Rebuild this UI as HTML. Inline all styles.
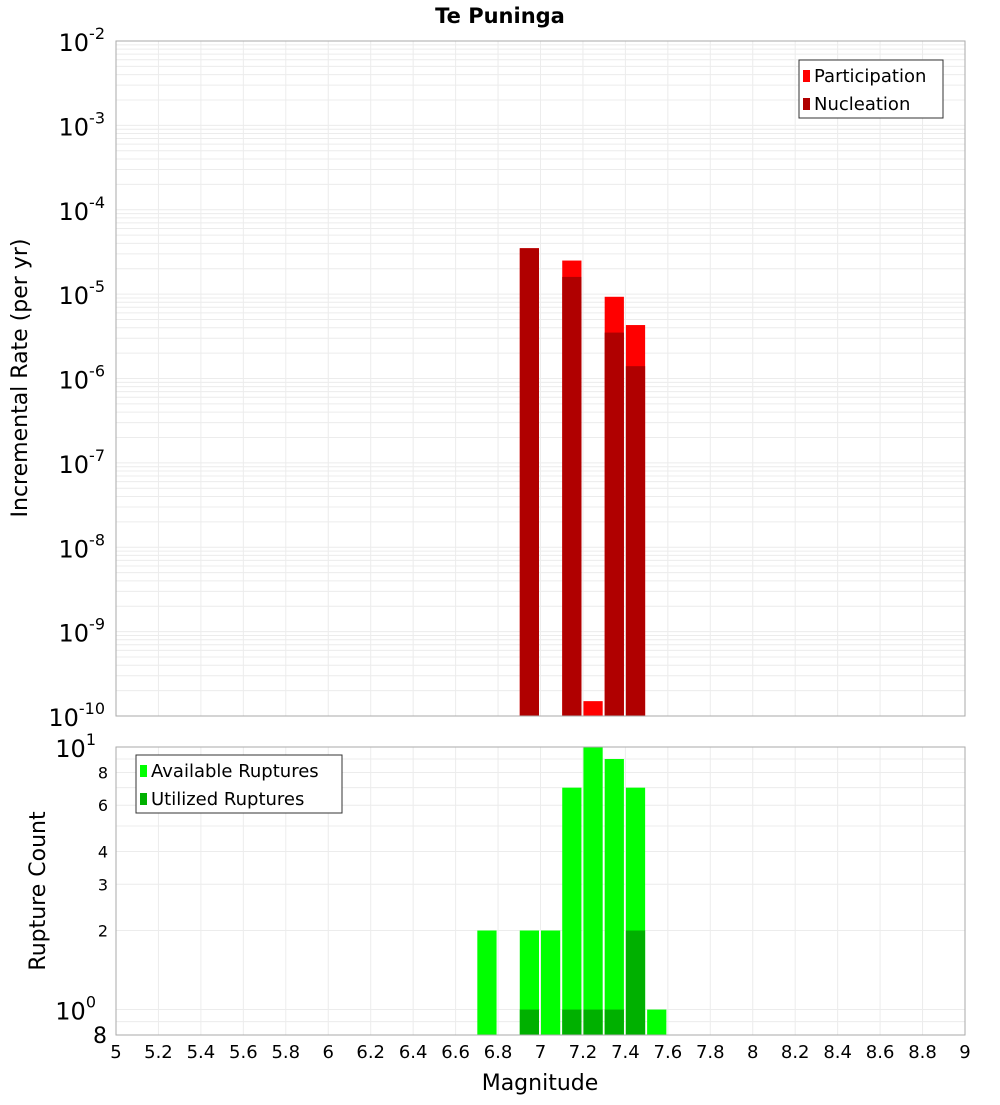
<!DOCTYPE html>
<html><head><meta charset="utf-8"><style>
body{margin:0;background:#fff;font-family:"Liberation Sans","DejaVu Sans",sans-serif;}
svg text{font-family:"DejaVu Sans","Liberation Sans",sans-serif;}
</style></head><body>
<svg id="chart" width="1000" height="1100" xmlns="http://www.w3.org/2000/svg">
<text x="500" y="23" text-anchor="middle" font-size="21" font-weight="bold">Te Puninga</text>
<g id="topPlot"></g><g id="botPlot"></g>
<text transform="translate(27,378) rotate(-90)" text-anchor="middle" font-size="22">Incremental Rate (per yr)</text>
<text transform="translate(45,891) rotate(-90)" text-anchor="middle" font-size="22">Rupture Count</text>
<text x="540" y="1090" text-anchor="middle" font-size="22">Magnitude</text>
</svg>
<script>
const mags = [6.75, 6.95, 7.05, 7.15, 7.25, 7.35, 7.45, 7.55];
const participation = [0, 3.5e-5, 0, 2.5e-5, 1.5e-10, 9.3e-6, 4.3e-6, 0];
const nucleation = [0, 3.5e-5, 0, 1.6e-5, 0, 3.5e-6, 1.4e-6, 0];
const available = [2, 2, 2, 7, 10, 9, 7, 1];
const utilized = [0, 1, 0, 1, 1, 1, 2, 0];
const xTicks = [5,5.2,5.4,5.6,5.8,6,6.2,6.4,6.6,6.8,7,7.2,7.4,7.6,7.8,8,8.2,8.4,8.6,8.8,9];
const topTicks = [-2,-3,-4,-5,-6,-7,-8,-9,-10];
const botTicks = [2,3,4,6,8];

const NS="http://www.w3.org/2000/svg";
const X0=116,X1=965;
const xs = m => X0+(m-5)/4*(X1-X0);
const TY0=41,TY1=716;
const yTop = v => TY0+(-2-Math.log10(v))/8*(TY1-TY0);
const BY0=747,BY1=1035;
const yBot = v => BY0+(1-Math.log10(v))/(1-Math.log10(0.8))*(BY1-BY0);
function el(p,tag,attrs,txt){const e=document.createElementNS(NS,tag);for(const k in attrs)e.setAttribute(k,attrs[k]);if(txt!==undefined)e.textContent=txt;p.appendChild(e);return e;}
const gTop=document.getElementById('topPlot'), gBot=document.getElementById('botPlot');

function grid(g,ya,yb){
  for(let m=5;m<=9.001;m+=0.2){const l=el(g,'line',{x1:xs(m),x2:xs(m),y1:ya,y2:yb,stroke:'#ececec'});
  
  }
}
grid(gTop,TY0,TY1);
for(let d=-10;d<-2;d++){for(let k=1;k<10;k++){const v=k*Math.pow(10,d);const l=el(gTop,'line',{x1:X0,x2:X1,y1:yTop(v),y2:yTop(v),stroke:'#ececec'});

}}
grid(gBot,BY0,BY1);
[0.8,0.9,1,2,3,4,5,6,7,8,9,10].forEach(v=>{const l=el(gBot,'line',{x1:X0,x2:X1,y1:yBot(v),y2:yBot(v),stroke:'#ececec'});

});

function bar(g,m,v,yf,base,color,name){if(!(v>0))return;const xa=xs(m-0.05)+0.5,xb=xs(m+0.05)-1.5;const y=yf(v);
const r=el(g,'rect',{x:xa,y:y,width:xb-xa,height:base-y,fill:color});

}
mags.forEach((m,i)=>{bar(gTop,m,participation[i],yTop,TY1,'#ff0000','participation-bar');bar(gTop,m,nucleation[i],yTop,TY1,'#b00000','nucleation-bar');
bar(gBot,m,available[i],yBot,BY1,'#00ff00','available-bar');bar(gBot,m,utilized[i],yBot,BY1,'#00b000','utilized-bar');});

el(gTop,'rect',{x:X0,y:TY0,width:X1-X0,height:TY1-TY0,fill:'none',stroke:'#aaa'});
el(gBot,'rect',{x:X0,y:BY0,width:X1-X0,height:BY1-BY0,fill:'none',stroke:'#aaa'});

topTicks.forEach(d=>{const t=el(gTop,'text',{x:105,y:yTop(Math.pow(10,d))+10,'text-anchor':'end','font-size':24});


t.textContent='10';el(t,'tspan',{dy:-12,'font-size':16},String(d));});
[[10,'10','1'],[1,'10','0']].forEach(([v,b,e])=>{const t=el(gBot,'text',{x:105-(e.length*9),y:yBot(v)+10,'text-anchor':'end','font-size':24});


t.textContent=b;el(t,'tspan',{dy:-12,'font-size':16},e);});
botTicks.forEach(v=>{const t=el(gBot,'text',{x:108,y:yBot(v)+6,'text-anchor':'end','font-size':16},String(v));

});
{const t=el(gBot,'text',{x:107,y:1043,'text-anchor':'end','font-size':22},'8');

}
xTicks.forEach(m=>{const t=el(gBot,'text',{x:xs(m),y:1058,'text-anchor':'middle','font-size':18},String(m));

});

function legend(g,lx,ly,w,items,name){const lg=el(g,'g',{});


el(lg,'rect',{x:lx,y:ly,width:w,height:58,fill:'#fff',stroke:'#333'});
items.forEach(([c,t],i)=>{el(lg,'rect',{x:lx+4,y:ly+10+i*28,width:7,height:12,fill:c});
const tx=el(lg,'text',{x:lx+15,y:ly+22+i*28,'font-size':18},t);

});}
legend(gTop,799,60,144,[['#ff0000','Participation'],['#b00000','Nucleation']],'legend-top');
legend(gBot,136,755,206,[['#00ff00','Available Ruptures'],['#00b000','Utilized Ruptures']],'legend-bottom');
</script>
</body></html>
